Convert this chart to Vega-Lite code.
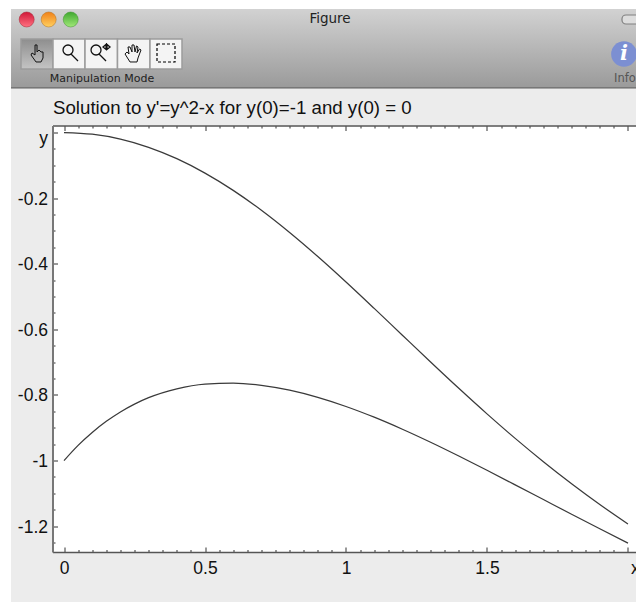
{"$schema":"https://vega.github.io/schema/vega-lite/v6.json","width":583.5,"height":426.5,"autosize":"none","padding":{"left":52.5,"top":125.5,"right":0,"bottom":50},"background":"#ececec","view":{"fill":"#ffffff","stroke":null},
"datasets":{"curves":[
{"series":"y(0)=0","x":0,"y":0},{"series":"y(0)=0","x":0.1,"y":-0.005},{"series":"y(0)=0","x":0.2,"y":-0.02},{"series":"y(0)=0","x":0.3,"y":-0.0449},{"series":"y(0)=0","x":0.4,"y":-0.0795},{"series":"y(0)=0","x":0.5,"y":-0.1235},{"series":"y(0)=0","x":0.6,"y":-0.1762},{"series":"y(0)=0","x":0.7,"y":-0.2369},{"series":"y(0)=0","x":0.8,"y":-0.3046},{"series":"y(0)=0","x":0.9,"y":-0.3779},{"series":"y(0)=0","x":1,"y":-0.4555},{"series":"y(0)=0","x":1.1,"y":-0.536},{"series":"y(0)=0","x":1.2,"y":-0.6178},{"series":"y(0)=0","x":1.3,"y":-0.6994},{"series":"y(0)=0","x":1.4,"y":-0.7797},{"series":"y(0)=0","x":1.5,"y":-0.8576},{"series":"y(0)=0","x":1.6,"y":-0.9323},{"series":"y(0)=0","x":1.7,"y":-1.0034},{"series":"y(0)=0","x":1.8,"y":-1.0706},{"series":"y(0)=0","x":1.9,"y":-1.1339},{"series":"y(0)=0","x":2,"y":-1.1933},
{"series":"y(0)=-1","x":0,"y":-1},{"series":"y(0)=-1","x":0.05,"y":-0.9537},{"series":"y(0)=-1","x":0.1,"y":-0.9143},{"series":"y(0)=-1","x":0.15,"y":-0.8804},{"series":"y(0)=-1","x":0.2,"y":-0.8517},{"series":"y(0)=-1","x":0.25,"y":-0.8278},{"series":"y(0)=-1","x":0.3,"y":-0.8082},{"series":"y(0)=-1","x":0.4,"y":-0.7812},{"series":"y(0)=-1","x":0.5,"y":-0.7668},{"series":"y(0)=-1","x":0.6,"y":-0.7637},{"series":"y(0)=-1","x":0.7,"y":-0.7705},{"series":"y(0)=-1","x":0.8,"y":-0.7853},{"series":"y(0)=-1","x":0.9,"y":-0.8072},{"series":"y(0)=-1","x":1,"y":-0.835},{"series":"y(0)=-1","x":1.1,"y":-0.8677},{"series":"y(0)=-1","x":1.2,"y":-0.9044},{"series":"y(0)=-1","x":1.3,"y":-0.9441},{"series":"y(0)=-1","x":1.4,"y":-0.9861},{"series":"y(0)=-1","x":1.5,"y":-1.0296},{"series":"y(0)=-1","x":1.6,"y":-1.074},{"series":"y(0)=-1","x":1.7,"y":-1.1188},{"series":"y(0)=-1","x":1.8,"y":-1.1636},{"series":"y(0)=-1","x":1.9,"y":-1.208},{"series":"y(0)=-1","x":2,"y":-1.2517}],
"blank":[{}]},
"resolve":{"axis":{"x":"independent","y":"independent"}},
"layer":[
{"data":{"name":"curves"},"mark":{"type":"line","interpolate":"monotone","color":"#3a3a3a","strokeWidth":1.25},
"encoding":{"detail":{"field":"series"},
"x":{"field":"x","type":"quantitative","scale":{"domain":[-0.0408,2.0284],"nice":false,"zero":false},"axis":{"orient":"bottom","title":null,"grid":false,"domainColor":"#555555","domainWidth":1.5,"tickColor":"#333333","tickWidth":1,"tickSize":{"condition":{"test":"abs(datum.value*2-round(datum.value*2))<0.001","value":-5},"value":-2.5},"values":[0,0.05,0.1,0.15,0.2,0.25,0.3,0.35,0.4,0.45,0.5,0.55,0.6,0.65,0.7,0.75,0.8,0.85,0.9,0.95,1,1.05,1.1,1.15,1.2,1.25,1.3,1.35,1.4,1.45,1.5,1.55,1.6,1.65,1.7,1.75,1.8,1.85,1.9,1.95,2],"labelExpr":"datum.value==2?'x':(abs(datum.value*2-round(datum.value*2))<0.001?datum.label:'')","labelOffset":{"condition":{"test":"datum.value==2","value":7},"value":0},"labelFont":"Liberation Sans","labelFontSize":17.5,"labelColor":"#111111","labelPadding":12,"labelOverlap":false,"labelFlush":false,"format":"~g"}},
"y":{"field":"y","type":"quantitative","scale":{"domain":[-1.2787,0.0216],"nice":false,"zero":false},"axis":{"orient":"left","title":null,"grid":false,"domainColor":"#777777","domainWidth":2,"tickColor":"#333333","tickWidth":1,"tickSize":{"condition":{"test":"abs(datum.value*5-round(datum.value*5))<0.001","value":-5},"value":-2.5},"values":[0,-0.05,-0.1,-0.15,-0.2,-0.25,-0.3,-0.35,-0.4,-0.45,-0.5,-0.55,-0.6,-0.65,-0.7,-0.75,-0.8,-0.85,-0.9,-0.95,-1,-1.05,-1.1,-1.15,-1.2,-1.25],"labelExpr":"datum.value==0?'y':(abs(datum.value*5-round(datum.value*5))<0.001?replace(datum.label,'−','-'):'')","labelOffset":{"condition":{"test":"datum.value==0","value":6},"value":1},"labelFont":"Liberation Sans","labelFontSize":17.5,"labelColor":"#111111","labelPadding":10,"labelOverlap":false,"labelFlush":false,"format":"~g"}}}},
{"data":{"name":"curves"},"mark":{"type":"line","opacity":0},
"encoding":{"detail":{"field":"series"},
"x":{"field":"x","type":"quantitative","scale":{"domain":[-0.0408,2.0284],"nice":false,"zero":false},"axis":{"orient":"top","title":null,"grid":false,"labels":false,"domainColor":"#555555","domainWidth":1.5,"tickColor":"#333333","tickWidth":1,"tickSize":{"condition":{"test":"abs(datum.value*2-round(datum.value*2))<0.001","value":-5},"value":-2.5},"values":[0,0.05,0.1,0.15,0.2,0.25,0.3,0.35,0.4,0.45,0.5,0.55,0.6,0.65,0.7,0.75,0.8,0.85,0.9,0.95,1,1.05,1.1,1.15,1.2,1.25,1.3,1.35,1.4,1.45,1.5,1.55,1.6,1.65,1.7,1.75,1.8,1.85,1.9,1.95,2]}},
"y":{"field":"y","type":"quantitative","axis":null}}},
{"data":{"name":"blank"},"mark":{"type":"rect","color":"#ffffff"},"encoding":{"x":{"datum":-0.227,"type":"quantitative","axis":null},"x2":{"datum":-0.1879},"y":{"datum":0.4043,"type":"quantitative","axis":null},"y2":{"datum":-1.4308}}},
{"data":{"name":"blank"},"mark":{"type":"rect","color":"#ffffff"},"encoding":{"x":{"datum":-0.227,"type":"quantitative","axis":null},"x2":{"datum":2.04},"y":{"datum":0.4043,"type":"quantitative","axis":null},"y2":{"datum":0.3768}}},
{"data":{"name":"blank"},"mark":{"type":"rect","color":{"gradient":"linear","x1":0,"y1":0,"x2":0,"y2":1,"stops":[{"offset":0,"color":"#d2d2d2"},{"offset":1,"color":"#9a9a9a"}]}},"encoding":{"x":{"datum":-0.1879,"type":"quantitative","axis":null},"x2":{"datum":2.06},"y":{"datum":0.3768,"type":"quantitative","axis":null},"y2":{"datum":0.136}}},
{"data":{"name":"blank"},"mark":{"type":"rule","color":"#5a5a5a","strokeWidth":1},"encoding":{"x":{"datum":-0.1879,"type":"quantitative","axis":null},"x2":{"datum":2.06},"y":{"datum":0.136,"type":"quantitative","axis":null}}},
{"data":{"name":"blank"},"mark":{"type":"rect","stroke":"#9c9c9c","strokeWidth":1.5,"color":{"gradient":"linear","x1":0,"y1":0,"x2":0,"y2":1,"stops":[{"offset":0,"color":"#8e8e8e"},{"offset":1,"color":"#c4c4c4"}]}},"encoding":{"x":{"datum":-0.1525,"type":"quantitative","axis":null},"x2":{"datum":-0.039},"y":{"datum":0.2854,"type":"quantitative","axis":null},"y2":{"datum":0.1939}}},
{"data":{"name":"blank"},"mark":{"type":"rect","stroke":"#9c9c9c","strokeWidth":1.5,"color":"#f4f4f4"},"encoding":{"x":{"datum":-0.039,"type":"quantitative","axis":null},"x2":{"datum":0.0745},"y":{"datum":0.2854,"type":"quantitative","axis":null},"y2":{"datum":0.1939}}},
{"data":{"name":"blank"},"mark":{"type":"rect","stroke":"#9c9c9c","strokeWidth":1.5,"color":"#f4f4f4"},"encoding":{"x":{"datum":0.0745,"type":"quantitative","axis":null},"x2":{"datum":0.1897},"y":{"datum":0.2854,"type":"quantitative","axis":null},"y2":{"datum":0.1939}}},
{"data":{"name":"blank"},"mark":{"type":"rect","stroke":"#9c9c9c","strokeWidth":1.5,"color":"#f4f4f4"},"encoding":{"x":{"datum":0.1897,"type":"quantitative","axis":null},"x2":{"datum":0.305},"y":{"datum":0.2854,"type":"quantitative","axis":null},"y2":{"datum":0.1939}}},
{"data":{"name":"blank"},"mark":{"type":"rect","stroke":"#9c9c9c","strokeWidth":1.5,"color":"#f4f4f4"},"encoding":{"x":{"datum":0.305,"type":"quantitative","axis":null},"x2":{"datum":0.4184},"y":{"datum":0.2854,"type":"quantitative","axis":null},"y2":{"datum":0.1939}}},
{"data":{"name":"blank"},"mark":{"type":"point","shape":"M-0.1,0.9 L-0.6,0.2 L-0.5,0 L-0.2,0.2 L-0.2,-0.8 L0,-0.8 L0,-0.1 L0.2,-0.3 L0.4,-0.1 L0.6,-0.1 L0.6,0.5 L0.4,0.9 Z","filled":false,"size":400,"opacity":1,"stroke":"#111111","strokeWidth":1},"encoding":{"x":{"datum":-0.0957,"type":"quantitative","axis":null},"y":{"datum":0.2427,"type":"quantitative","axis":null}}},
{"data":{"name":"blank"},"mark":{"type":"point","shape":"M0.3,-0.3 A0.5,0.5 0 1 1 -0.7,-0.3 A0.5,0.5 0 1 1 0.3,-0.3 M0.1,0.1 L0.8,0.8","filled":false,"size":400,"opacity":1,"stroke":"#111111","strokeWidth":1.3},"encoding":{"x":{"datum":0.0213,"type":"quantitative","axis":null},"y":{"datum":0.2427,"type":"quantitative","axis":null}}},
{"data":{"name":"blank"},"mark":{"type":"point","shape":"M0.1,-0.3 A0.5,0.5 0 1 1 -0.9,-0.3 A0.5,0.5 0 1 1 0.1,-0.3 M-0.1,0.1 L0.6,0.8 M0.3,-0.6 L0.6,-0.85 L0.6,-0.35 Z M1,-0.6 L0.7,-0.85 L0.7,-0.35 Z","filled":false,"size":400,"opacity":1,"stroke":"#111111","strokeWidth":1.3},"encoding":{"x":{"datum":0.1277,"type":"quantitative","axis":null},"y":{"datum":0.2427,"type":"quantitative","axis":null}}},
{"data":{"name":"blank"},"mark":{"type":"point","shape":"M-0.3,0.9 L-0.8,0.1 L-0.6,-0.1 L-0.4,0.1 L-0.5,-0.6 L-0.3,-0.6 L-0.1,-0.1 L-0.1,-0.8 L0.1,-0.8 L0.2,-0.1 L0.35,-0.7 L0.5,-0.6 L0.4,0 L0.65,-0.4 L0.8,-0.3 L0.5,0.5 L0.4,0.9 Z","filled":false,"size":400,"opacity":1,"stroke":"#111111","strokeWidth":1},"encoding":{"x":{"datum":0.2447,"type":"quantitative","axis":null},"y":{"datum":0.2427,"type":"quantitative","axis":null}}},
{"data":{"name":"blank"},"mark":{"type":"point","shape":"square","filled":false,"size":324,"opacity":1,"stroke":"#000000","strokeWidth":1.2,"strokeDash":[3,2]},"encoding":{"x":{"datum":0.3617,"type":"quantitative","axis":null},"y":{"datum":0.2427,"type":"quantitative","axis":null}}},
{"data":{"name":"blank"},"mark":{"type":"point","filled":true,"size":225,"opacity":1,"stroke":"#a02030","strokeWidth":0.5,"color":{"gradient":"linear","x1":0,"y1":0,"x2":0,"y2":1,"stops":[{"offset":0,"color":"#d01838"},{"offset":1,"color":"#ff7080"}]}},"encoding":{"x":{"datum":-0.1323,"type":"quantitative","axis":null},"y":{"datum":0.3448,"type":"quantitative","axis":null}}},
{"data":{"name":"blank"},"mark":{"type":"point","filled":true,"size":225,"opacity":1,"stroke":"#b07020","strokeWidth":0.5,"color":{"gradient":"linear","x1":0,"y1":0,"x2":0,"y2":1,"stops":[{"offset":0,"color":"#f08018"},{"offset":1,"color":"#ffd060"}]}},"encoding":{"x":{"datum":-0.0543,"type":"quantitative","axis":null},"y":{"datum":0.3448,"type":"quantitative","axis":null}}},
{"data":{"name":"blank"},"mark":{"type":"point","filled":true,"size":225,"opacity":1,"stroke":"#409030","strokeWidth":0.5,"color":{"gradient":"linear","x1":0,"y1":0,"x2":0,"y2":1,"stops":[{"offset":0,"color":"#40a830"},{"offset":1,"color":"#a0e878"}]}},"encoding":{"x":{"datum":0.0238,"type":"quantitative","axis":null},"y":{"datum":0.3448,"type":"quantitative","axis":null}}},
{"data":{"name":"blank"},"mark":{"type":"rect","stroke":"#808080","strokeWidth":1.2,"fill":"#dddddd","cornerRadius":4},"encoding":{"x":{"datum":1.9787,"type":"quantitative","axis":null},"x2":{"datum":2.07},"y":{"datum":0.3585,"type":"quantitative","axis":null},"y2":{"datum":0.3311}}},
{"data":{"name":"blank"},"mark":{"type":"point","filled":true,"size":660,"opacity":1,"color":"#7c8fd2"},"encoding":{"x":{"datum":1.9858,"type":"quantitative","axis":null},"y":{"datum":0.2396,"type":"quantitative","axis":null}}},
{"data":{"name":"blank"},"mark":{"type":"text","text":"i","font":"DejaVu Serif","fontSize":21,"fontStyle":"italic","fontWeight":"bold","color":"#ffffff","align":"center","baseline":"middle"},"encoding":{"x":{"datum":1.9858,"type":"quantitative","axis":null},"y":{"datum":0.2396,"type":"quantitative","axis":null}}},
{"data":{"name":"blank"},"mark":{"type":"text","text":"Figure","font":"DejaVu Sans","fontSize":13.5,"color":"#222222","align":"center","baseline":"middle"},"encoding":{"x":{"datum":0.9433,"type":"quantitative","axis":null},"y":{"datum":0.3448,"type":"quantitative","axis":null}}},
{"data":{"name":"blank"},"mark":{"type":"text","text":"Manipulation Mode","font":"DejaVu Sans","fontSize":11,"color":"#222222","align":"center","baseline":"middle"},"encoding":{"x":{"datum":0.1348,"type":"quantitative","axis":null},"y":{"datum":0.1634,"type":"quantitative","axis":null}}},
{"data":{"name":"blank"},"mark":{"type":"text","text":"Info","font":"DejaVu Sans","fontSize":11.5,"color":"#555555","align":"center","baseline":"middle"},"encoding":{"x":{"datum":1.989,"type":"quantitative","axis":null},"y":{"datum":0.1634,"type":"quantitative","axis":null}}},
{"data":{"name":"blank"},"mark":{"type":"text","text":"Solution to y'=y^2-x for y(0)=-1 and y(0) = 0","font":"Liberation Sans","fontSize":18.7,"color":"#111111","align":"left","baseline":"alphabetic"},"encoding":{"x":{"datum":-0.039,"type":"quantitative","axis":null},"y":{"datum":0.0567,"type":"quantitative","axis":null}}}
]}
